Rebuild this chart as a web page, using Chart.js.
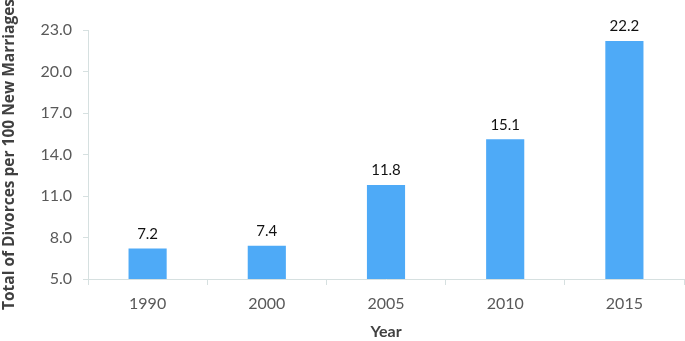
<!DOCTYPE html>
<html>
<head>
<meta charset="utf-8">
<script src="https://cdn.jsdelivr.net/npm/chart.js@4"></script>
<style>
  html, body { margin: 0; padding: 0; background: #fff; }
  #wrap { width: 685px; height: 341px; }
</style>
</head>
<body>
<div id="wrap"><canvas id="myChart"></canvas></div>
<script>
    // values
    const years = ['1990', '2000', '2005', '2010', '2015']
    const divorces = [7.2, 7.4, 11.8, 15.1, 22.2]
    const yTicks = [5, 8, 11, 14, 17, 20, 23]

    const axisColor = '#d6e0e0'
    const tickColor = '#595959'
    const fontName = 'Lato, "Open Sans", sans-serif'

    // draw the value above each bar
    const barLabels = {
      id: 'barLabels',
      afterDatasetsDraw(chart) {
        const ctx = chart.ctx
        const meta = chart.getDatasetMeta(0)
        ctx.save()
        ctx.fillStyle = '#111'
        ctx.font = '15px ' + fontName
        ctx.textAlign = 'center'
        ctx.textBaseline = 'bottom'
        meta.data.forEach(function (bar, i) {
          ctx.fillText(divorces[i].toFixed(1), bar.x, bar.y - 7)
        })
        ctx.restore()
      }
    }

    const datachart = {
      labels: years,
      datasets: [{
        label: 'Divorces',
        data: divorces,
        backgroundColor: '#4eaaf7',
        borderWidth: 0,
        categoryPercentage: 1,
        barPercentage: 0.32
      }]
    }

    const config = {
      type: 'bar',
      data: datachart,
      plugins: [barLabels],
      options: {
        responsive: true,
        maintainAspectRatio: false,
        animation: false,
        layout: { padding: { top: 30, right: 1, left: 0, bottom: 0 } },
        plugins: {
          legend: { display: false },
          tooltip: { enabled: false }
        },
        scales: {
          x: {
            offset: true,
            grid: {
              offset: true,
              drawOnChartArea: false,
              drawTicks: true,
              tickLength: 6,
              color: axisColor
            },
            border: { color: axisColor, width: 1 },
            ticks: {
              color: tickColor,
              padding: 9,
              font: { family: fontName, size: 16 }
            },
            title: {
              display: true,
              text: 'Year',
              color: '#404040',
              font: { family: fontName, size: 16, weight: 'bold' },
              padding: { top: 4, bottom: 0 }
            },
            afterFit: function (s) { s.height = 62 }
          },
          y: {
            min: 5,
            max: 23,
            afterBuildTicks: function (s) {
              s.ticks = yTicks.map(function (v) { return { value: v } })
            },
            grid: {
              drawOnChartArea: false,
              drawTicks: true,
              tickLength: 5,
              color: axisColor
            },
            border: { color: axisColor, width: 1 },
            ticks: {
              color: tickColor,
              padding: 11,
              font: { family: fontName, size: 16 },
              callback: function (v) { return Number(v).toFixed(1) }
            },
            title: {
              display: true,
              text: 'Total of Divorces per 100 New Marriages',
              color: '#404040',
              font: { family: '"Open Sans", sans-serif', size: 15.5, weight: 'bold' },
              padding: { top: 0, bottom: 0 }
            },
            afterFit: function (s) { s.width = 88 }
          }
        }
      }
    }

    const myChart = new Chart(document.getElementById('myChart'), config)
</script>
</body>
</html>
